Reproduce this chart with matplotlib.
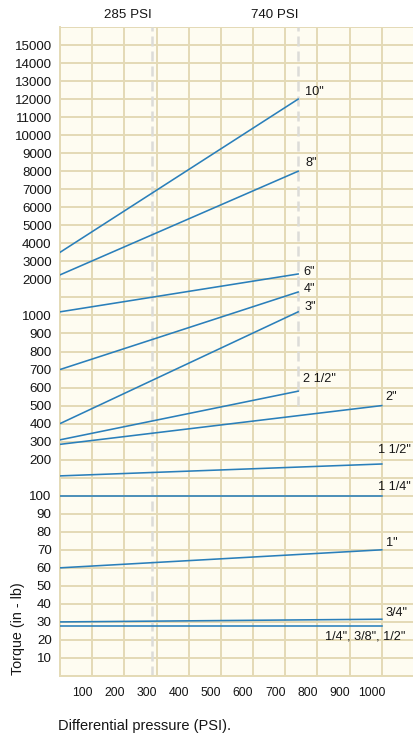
import numpy as np
import matplotlib
matplotlib.use('Agg')
import matplotlib.pyplot as plt
import matplotlib.transforms as mtransforms

plt.rcParams['font.family'] = ['Liberation Sans', 'DejaVu Sans']

# DATA
SIZES = ['10"', '8"', '6"', '4"', '3"', '2 1/2"', '2"', '1 1/2"', '1 1/4"', '1"', '3/4"', '1/4", 3/8", 1/2"']
PSI_START = [0, 0, 0, 0, 0, 0, 0, 0, 0, 0, 0, 0]
PSI_END = [740, 740, 740, 740, 740, 740, 1000, 1000, 1000, 1000, 1000, 1000]
TORQUE_START = [3500, 2250, 1100, 700, 400, 310, 285, 155, 100, 60, 30, 28]
TORQUE_END = [12000, 8000, 2300, 1650, 1100, 580, 500, 188, 100, 70, 31.5, 28]

X_TICKS = [100, 200, 300, 400, 500, 600, 700, 800, 900, 1000]
Y_GRID = [0, 10, 20, 30, 40, 50, 60, 70, 80, 90, 100, 150,
          200, 300, 400, 500, 600, 700, 800, 900, 1000, 1500,
          2000, 3000, 4000, 5000, 6000, 7000, 8000, 9000, 10000,
          11000, 12000, 13000, 14000, 15000, 16000]
Y_UNLABELED = [0, 150, 1500, 16000]
PRESSURE_MARKS = [285, 740]
PRESSURE_MARK_BOTTOM = [0, 500]

# label offsets in pixels (dx, dy, ha)
LABEL_POS = [(7, 7, 'left'), (7, 8, 'left'), (5, 2, 'left'), (6, 3, 'left'), (6, 5, 'left'),
             (5, 12, 'left'), (4, 9, 'left'), (-4, 14, 'left'), (-4, 9, 'left'), (4, 7, 'left'),
             (4, 6, 'left'), (24, -11, 'right')]

# piecewise scale of the printed chart
knots_val = [0, 100, 200, 1000, 2000, 16000]
knots_idx = [0, 10, 12, 20, 22, 36]

def fwd(v):
    return np.interp(v, knots_val, knots_idx)

def inv(i):
    return np.interp(i, knots_idx, knots_val)

GRID_C = '#e4dab6'
LINE_C = '#2a7fba'
TXT_C = '#151515'

fig = plt.figure(figsize=(4.14, 7.37), dpi=100)
ax = fig.add_axes([60/414, 1-676/737, 1-60/414, (676-27)/737])
ax.set_facecolor('#fefcf1')
ax.set_yscale('function', functions=(fwd, inv))
ax.set_xlim(0, 1092)
ax.set_ylim(0, 16000)

ax.set_xticks(range(0, 1101, 100))
ax.set_xticklabels([''] + [str(t) for t in X_TICKS] + [''])
ax.set_yticks(Y_GRID)
ax.set_yticklabels(['' if v in Y_UNLABELED else str(v) for v in Y_GRID])
ax.minorticks_off()
ax.tick_params(axis='both', length=0, colors=TXT_C)
ax.tick_params(axis='y', labelsize=9.6, pad=6)
ax.tick_params(axis='x', labelsize=8.8, pad=8)
offset = mtransforms.ScaledTranslation(-10/100, 0, fig.dpi_scale_trans)
for lab in ax.get_xticklabels():
    lab.set_transform(lab.get_transform() + offset)

ax.grid(True, color=GRID_C, linewidth=1.4)
ax.set_axisbelow(True)
for s in ['top', 'right']:
    ax.spines[s].set_visible(False)
for s in ['left', 'bottom']:
    ax.spines[s].set_color(GRID_C)
    ax.spines[s].set_linewidth(1.4)

for p, b in zip(PRESSURE_MARKS, PRESSURE_MARK_BOTTOM):
    ax.plot([p, p], [b, 16000], color='#dcdcd8', lw=1.8, ls=(0, (4, 2)), zorder=2)
    ax.annotate(f'{p} PSI', xy=(p, 1), xycoords=('data', 'axes fraction'), xytext=(0, 12),
                textcoords='offset pixels', ha='right', va='center', fontsize=9.6, color=TXT_C)

for i in range(len(SIZES)):
    ax.plot([PSI_START[i], PSI_END[i]], [TORQUE_START[i], TORQUE_END[i]], color=LINE_C, lw=1.15, zorder=3)
    dx, dy, ha = LABEL_POS[i]
    ax.annotate(SIZES[i], xy=(PSI_END[i], TORQUE_END[i]), xytext=(dx, dy), textcoords='offset pixels',
                ha=ha, va='center', fontsize=9.2, color=TXT_C)

fig.text(18/414, 1-629/737, 'Torque (in - lb)', rotation=90, ha='center', va='center', fontsize=10.3, color=TXT_C)
fig.text(58/414, 1-726/737, 'Differential pressure (PSI).', ha='left', va='center', fontsize=10.5, color=TXT_C)

fig.savefig('out.png', dpi=100)
